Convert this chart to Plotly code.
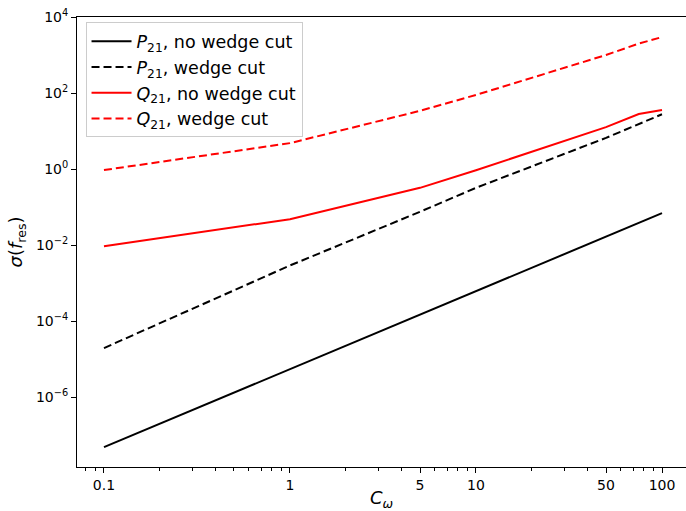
import plotly.graph_objects as go

c_omega = [0.1, 1, 5, 10, 50, 75, 100]
p21_no_wedge = [4.8e-8, 5.4e-6, 1.5e-4, 6.1e-4, 0.0167, 0.038, 0.069]
p21_wedge = [1.95e-5, 2.9e-3, 0.075, 0.32, 6.6, 15.0, 27.6]
q21_no_wedge = [0.0093, 0.048, 0.32, 0.93, 12.7, 28.0, 35.5]
q21_wedge = [0.94, 4.8, 34.0, 89.0, 1000.0, 2000.0, 2970.0]

series_names = [
    "<i>P</i><sub>21</sub>, no wedge cut",
    "<i>P</i><sub>21</sub>, wedge cut",
    "<i>Q</i><sub>21</sub>, no wedge cut",
    "<i>Q</i><sub>21</sub>, wedge cut",
]

x_tick_vals = [0.1, 1, 5, 10, 50, 100]
x_tick_text = ["0.1", "1", "5", "10", "50", "100"]
x_minor_vals = [0.08, 0.09, 0.2, 0.3, 0.4, 0.5, 0.6, 0.7, 0.8, 0.9,
                2, 3, 4, 6, 7, 8, 9, 20, 30, 40, 60, 70, 80, 90, 200]
y_tick_vals = [1e-6, 1e-4, 1e-2, 1, 1e2, 1e4]
y_tick_text = ["10<sup>−6</sup>", "10<sup>−4</sup>", "10<sup>−2</sup>",
               "10<sup>0</sup>", "10<sup>2</sup>", "10<sup>4</sup>"]

fig = go.Figure()
styles = [("black", "solid"), ("black", "8px,4px"), ("red", "solid"), ("red", "8px,4px")]
for name, ys, (col, dash) in zip(series_names,
                                 [p21_no_wedge, p21_wedge, q21_no_wedge, q21_wedge],
                                 styles):
    fig.add_trace(go.Scatter(x=c_omega, y=ys, mode="lines", name=name,
                             line=dict(color=col, width=2, dash=dash)))

font = "DejaVu Sans"
fig.update_layout(
    width=686, height=511,
    margin=dict(l=77, r=0, t=17, b=44),
    plot_bgcolor="white", paper_bgcolor="white",
    font=dict(family=font, size=14, color="black"),
    showlegend=True,
    legend=dict(x=0.014, y=0.988, xanchor="left", yanchor="top",
                bgcolor="rgba(255,255,255,0.8)", bordercolor="#cccccc", borderwidth=1,
                font=dict(family=font, size=17.5), tracegroupgap=0,
                itemwidth=40),
)
fig.update_xaxes(
    type="log", range=[-1.145, 2.129],
    tickmode="array", tickvals=x_tick_vals, ticktext=x_tick_text,
    ticks="outside", ticklen=5, tickcolor="black",
    minor=dict(ticks="outside", tickvals=x_minor_vals, ticklen=3, tickcolor="black", showgrid=False),
    showgrid=False, zeroline=False,
    showline=True, linecolor="black", linewidth=1, mirror=True,
    title=dict(text="<i>C</i><sub><i>ω</i></sub>", font=dict(size=18), standoff=14),
    automargin=False,
)
fig.update_yaxes(
    type="log", range=[-7.84, 4.0],
    tickmode="array", tickvals=y_tick_vals, ticktext=y_tick_text,
    ticks="outside", ticklen=5, tickcolor="black",
    showgrid=False, zeroline=False,
    showline=True, linecolor="black", linewidth=1,
    title=dict(text="<i>σ</i>(<i>f</i><sub>res</sub>)", font=dict(size=18), standoff=8),
    automargin=False,
)
fig.write_html("out.html", post_script="document.body.style.margin='0';",
               config={"displayModeBar": False})
